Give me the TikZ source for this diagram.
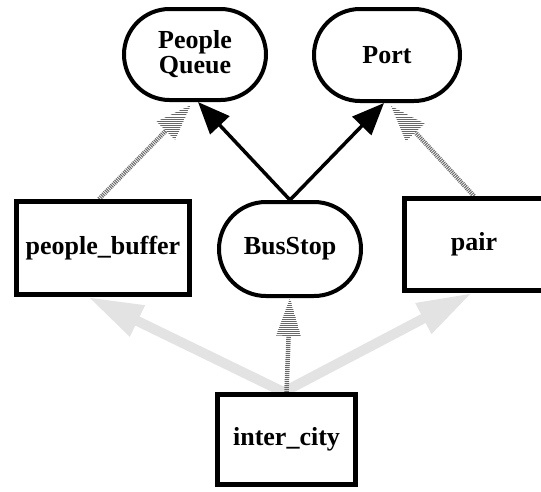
\documentclass[tikz,border=0pt]{standalone}
\usepackage{fontspec}
\setmainfont{Liberation Serif}
\usetikzlibrary{arrows.meta,patterns.meta,calc,shapes.misc}
\pgfdeclarelayer{background}
\pgfsetlayers{background,main}

\definecolor{stripe}{RGB}{105,105,105}
\definecolor{faint}{RGB}{227,227,227}

\tikzset{
  label font/.style={font=\fontsize{26}{25}\selectfont\bfseries, align=center, text=black},
  roundbox/.style={label font, rounded rectangle, draw=black, fill=white, line width=4pt, inner sep=0pt},
  squarebox/.style={label font, draw=black, fill=white, line width=5pt, inner sep=0pt},
  solidarrow/.style={draw=black, line width=3.5pt, -{Triangle[length=32pt,width=26pt]}},
  faintarrow/.style={draw=faint, line width=10pt, -{Triangle[length=55pt,width=32pt]}},
  stripeshaft/.style={draw=stripe, line width=4.5pt, dash pattern=on 1pt off 1pt},
  stripehead/.style={pattern={Lines[angle=0,distance=2pt,line width=1pt]}, pattern color=stripe},
}

% striped (hatched) arrow: #1 source, #2 tip, #3 head length, #4 half head width
\newcommand\stripedarrow[4]{%
  \coordinate (hb) at ($(#2)!#3!(#1)$);
  \draw[stripeshaft] (#1) -- (hb);
  \fill[stripehead] (#2) -- ($(hb)!#4!90:(#2)$) -- ($(hb)!#4!-90:(#2)$) -- cycle;
}

\begin{document}
\begin{tikzpicture}[x=1pt,y=-1pt]
  \useasboundingbox (0,0) rectangle (541,491);
  \clip (0,0) rectangle (541,491);

  % classes
  \node[roundbox, minimum width=142pt, minimum height=91pt] (pq) at (195,54.5) {People\\Queue};
  \node[roundbox, minimum width=146pt, minimum height=92pt] (port) at (387,55) {Port};
  \node[roundbox, minimum width=142pt, minimum height=94pt] (bus) at (290,249) {BusStop};
  \node[squarebox, minimum width=173pt, minimum height=93pt] (pb) at (103,248) {people\_buffer};
  \node[squarebox, minimum width=139pt, minimum height=92pt] (pair) at (474,244.5) {pair};
  \node[squarebox, minimum width=138pt, minimum height=90pt] (ic) at (286.5,439.5) {inter\_city};

  \begin{pgfonlayer}{background}
    % light grey links from inter_city
    \coordinate (icjoin) at ($(ic.north)+(-3,0)$);
    \coordinate (pbin) at ($(pb.south)+(-15,0)$);
    \coordinate (pairin) at ($(pair.south)+(-2,0)$);
    \draw[faintarrow] (icjoin) -- (pbin);
    \draw[faintarrow] (icjoin) -- (pairin);

    % solid links from BusStop
    \coordinate (pqsolid) at ($(pq.south)+(3,0)$);
    \coordinate (portsolid) at ($(port.south)+(-3,0)$);
    \draw[solidarrow] (bus.north) -- (pqsolid);
    \draw[solidarrow] (bus.north) -- (portsolid);

    % striped links
    \coordinate (pqstripe) at ($(pq.south)+(-4,3)$);
    \coordinate (portstripe) at ($(port.south)+(4,3)$);
    \coordinate (pbout) at ($(pb.north)+(-4,0)$);
    \stripedarrow{pbout}{pqstripe}{36pt}{13pt}
    \stripedarrow{pair.north}{portstripe}{36pt}{13pt}
    \stripedarrow{ic.north}{bus.south}{38pt}{12.5pt}
  \end{pgfonlayer}
\end{tikzpicture}
\end{document}
